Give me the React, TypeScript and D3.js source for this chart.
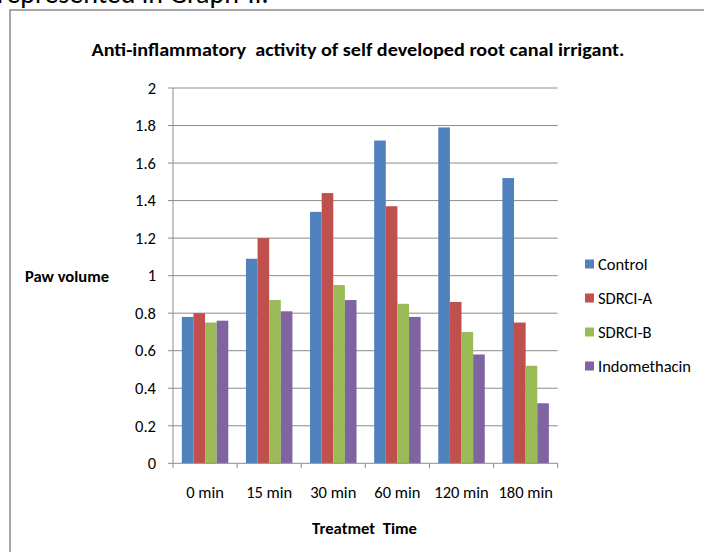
import React from "react";
import * as d3 from "d3";

const categories = ["0 min", "15 min", "30 min", "60 min", "120 min", "180 min"];
const seriesNames = ["Control", "SDRCI-A", "SDRCI-B", "Indomethacin"];
const control = [0.78, 1.09, 1.34, 1.72, 1.79, 1.52];
const sdrciA = [0.8, 1.2, 1.44, 1.37, 0.86, 0.75];
const sdrciB = [0.75, 0.87, 0.95, 0.85, 0.7, 0.52];
const indomethacin = [0.76, 0.81, 0.87, 0.78, 0.58, 0.32];
const yTicks = [0, 0.2, 0.4, 0.6, 0.8, 1, 1.2, 1.4, 1.6, 1.8, 2];
const colors = ["#4F81BD", "#C0504D", "#9BBB59", "#8064A2"];

const FONT = "Carlito, Calibri, 'Open Sans', sans-serif";

export default function App() {
  const W = 704, H = 552;
  const left = 173, right = 557.7, top = 88, bottom = 463.3;
  const series = [control, sdrciA, sdrciB, indomethacin];
  const x = d3.scaleBand().domain(categories).range([left, right]).paddingInner(0).paddingOuter(0);
  const bw = x.bandwidth();
  const inner = d3.scaleBand().domain(seriesNames).range([bw * 0.1375, bw * 0.8625]);
  const y = d3.scaleLinear().domain([0, 2]).range([bottom, top]);
  const fmt = (v: number) => (v === 0 || v === 1 || v === 2 ? String(v) : v.toFixed(1));
  const boundaries = d3.range(categories.length + 1).map((i) => left + i * bw);

  return (
    <svg width={W} height={H} style={{ position: "absolute", left: 0, top: 0, background: "#fff" }}>
      <rect x={0} y={0} width={W} height={H} fill="#fff" />
      <text x={-3} y={3} fontFamily={FONT} fontSize={28} fill="#000">represented in Graph-II.</text>
      <rect x={10} y={10} width={W + 10} height={H + 10} fill="none" stroke="#8a8a8a" strokeWidth={1.5} />
      <text x={91.5} y={56} fontFamily={FONT} fontSize={18} fontWeight="bold" fill="#000" textLength={533} lengthAdjust="spacingAndGlyphs" style={{ whiteSpace: "pre" }}>
        Anti-inflammatory  activity of self developed root canal irrigant.
      </text>
      {yTicks.map((t) => (
        <g key={t}>
          {t !== 0 && <line x1={left} x2={right} y1={y(t)} y2={y(t)} stroke="#8c8c8c" strokeWidth={1} />}
          <line x1={left - 5} x2={left} y1={y(t)} y2={y(t)} stroke="#8c8c8c" strokeWidth={1} />
          <text x={156} y={y(t)} dy="0.35em" textAnchor="end" fontFamily={FONT} fontSize={16.5} fill="#000">{fmt(t)}</text>
        </g>
      ))}
      {series.map((vals, si) =>
        vals.map((v, ci) => (
          <rect
            key={si + "-" + ci}
            x={(x(categories[ci]) as number) + (inner(seriesNames[si]) as number)}
            y={y(v)}
            width={inner.bandwidth()}
            height={bottom - y(v)}
            fill={colors[si]}
          />
        ))
      )}
      <line x1={left} x2={left} y1={top} y2={bottom} stroke="#8c8c8c" strokeWidth={1} />
      <line x1={left} x2={right} y1={bottom} y2={bottom} stroke="#8c8c8c" strokeWidth={1} />
      {boundaries.map((b, i) => (
        <line key={i} x1={b} x2={b} y1={bottom} y2={bottom + 5} stroke="#8c8c8c" strokeWidth={1} />
      ))}
      {categories.map((c) => (
        <text key={c} x={(x(c) as number) + bw / 2} y={498} textAnchor="middle" fontFamily={FONT} fontSize={16.5} fill="#000">{c}</text>
      ))}
      <text x={25} y={282} fontFamily={FONT} fontSize={16.5} fontWeight="bold" fill="#000" textLength={84} lengthAdjust="spacingAndGlyphs">Paw volume</text>
      <text x={312} y={534} fontFamily={FONT} fontSize={16.5} fontWeight="bold" fill="#000" textLength={105} lengthAdjust="spacingAndGlyphs" style={{ whiteSpace: "pre" }}>Treatmet  Time</text>
      {seriesNames.map((n, i) => (
        <g key={n}>
          <rect x={585} y={264 + i * 34 - 4.5} width={9} height={9} fill={colors[i]} />
          <text x={598} y={264 + i * 34} dy="0.35em" fontFamily={FONT} fontSize={16.5} fill="#000">{n}</text>
        </g>
      ))}
    </svg>
  );
}
